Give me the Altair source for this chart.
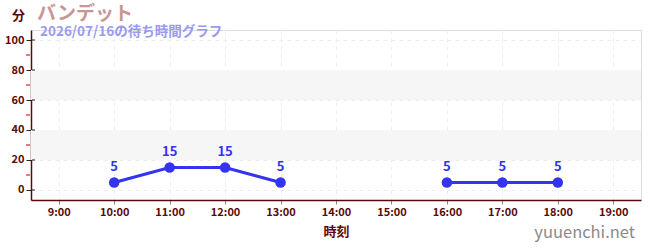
import altair as alt
import pandas as pd

hours = [10, 11, 12, 13, 14, 15, 16, 17, 18]
waits = [5, 15, 15, 5, None, None, 5, 5, 5]
x_ticks = [9, 10, 11, 12, 13, 14, 15, 16, 17, 18, 19]
y_ticks = [0, 20, 40, 60, 80, 100]
y_minor = [10, 30, 50, 70, 90]
bands = [(20, 40), (60, 80)]

# segment id so that missing values break the line
seg, s, prev_none = [], 0, True
for w in waits:
    if w is None:
        prev_none = True
        seg.append(None)
    else:
        if prev_none:
            s += 1
        prev_none = False
        seg.append(s)
df = pd.DataFrame({"hour": hours, "wait": waits, "seg": seg}).dropna()

band_df = pd.DataFrame({"y0": [b[0] for b in bands], "y1": [b[1] for b in bands]})

AXC = "#5a0a0a"
FONT = "Noto Sans CJK JP"
XD = [8.5, 19.5]
YD = [-6.67, 106.67]

xs = alt.Scale(domain=XD, nice=False, zero=False)
ys = alt.Scale(domain=YD, nice=False, zero=False)

base_axes = alt.Chart(pd.DataFrame({"hour": [9], "wait": [0]})).mark_point(opacity=0).encode(
    x=alt.X("hour:Q", scale=xs, title="時刻",
            axis=alt.Axis(values=x_ticks, labelExpr="datum.value + ':00'", labelOverlap=False,
                          domainColor=AXC, domainWidth=1.5, tickColor="#888", tickSize=4,
                          labelColor=AXC, labelFont=FONT, labelFontWeight="bold", labelFontSize=11,
                          titleColor=AXC, titleFont=FONT, titleFontWeight="bold", titleFontSize=13,
                          titlePadding=8,
                          grid=True, gridColor="#eeeeee", gridDash=[4, 4])),
    y=alt.Y("wait:Q", scale=ys, title=None,
            axis=alt.Axis(values=y_ticks, labelOverlap=False, domainColor=AXC, domainWidth=1.5,
                          tickColor="#222", tickSize=5,
                          labelColor=AXC, labelFont=FONT, labelFontWeight="bold", labelFontSize=11,
                          labelPadding=2,
                          grid=True, gridColor="#eeeeee", gridDash=[4, 4])),
)

bands_l = alt.Chart(band_df).mark_rect(color="#f6f6f6").encode(
    y=alt.Y("y0:Q", scale=ys, axis=None),
    y2="y1:Q",
    x=alt.value(0), x2=alt.value(610),
)

minor = alt.Chart(pd.DataFrame({"wait": y_minor})).mark_rule(color="#dd2222", strokeWidth=1.2).encode(
    y=alt.Y("wait:Q", scale=ys, axis=None), x=alt.value(-5), x2=alt.value(-1))
inner = alt.Chart(pd.DataFrame({"wait": y_ticks})).mark_rule(color="#222", strokeWidth=1).encode(
    y=alt.Y("wait:Q", scale=ys, axis=None), x=alt.value(1), x2=alt.value(4))

line = alt.Chart(df).mark_line(color="#3333f0", strokeWidth=3).encode(
    x=alt.X("hour:Q", scale=xs, axis=None), y=alt.Y("wait:Q", scale=ys, axis=None), detail="seg:N")
pts = alt.Chart(df).mark_circle(color="#3333f0", size=110, opacity=1).encode(
    x=alt.X("hour:Q", scale=xs, axis=None), y=alt.Y("wait:Q", scale=ys, axis=None))
labels = alt.Chart(df).mark_text(color="#3333f0", dy=-15, font=FONT, fontWeight="bold", fontSize=13).encode(
    x=alt.X("hour:Q", scale=xs, axis=None), y=alt.Y("wait:Q", scale=ys, axis=None), text="wait:Q")

def txt(t, x, y, size, color, weight="bold", align="left"):
    return alt.Chart(pd.DataFrame({"t": [t]})).mark_text(
        align=align, baseline="middle", font=FONT, fontSize=size, fontWeight=weight, color=color
    ).encode(text="t:N", x=alt.value(x), y=alt.value(y))

t_unit = txt("分", -19, -14, 13, AXC)
t_title = txt("バンデット", 6, -16, 19, "#c89595")
t_sub = txt("2026/07/16の待ち時間グラフ", 9, 2, 13.5, "#9a9af0")
t_wm = txt("yuuenchi.net", 604, 203, 16.5, "#8a8a8a", weight="normal", align="right")

chart = alt.layer(bands_l, base_axes, minor, inner, line, pts, labels, t_unit, t_title, t_sub, t_wm).resolve_axis(
    x="independent", y="independent").properties(
    width=610, height=170,
    autosize=alt.AutoSizeParams(type="none"),
    padding={"left": 31, "top": 30, "right": 9, "bottom": 50},
).configure_view(stroke=None).configure(background="white")

chart.save("out.html", embed_options={"renderer": "svg", "actions": False})
